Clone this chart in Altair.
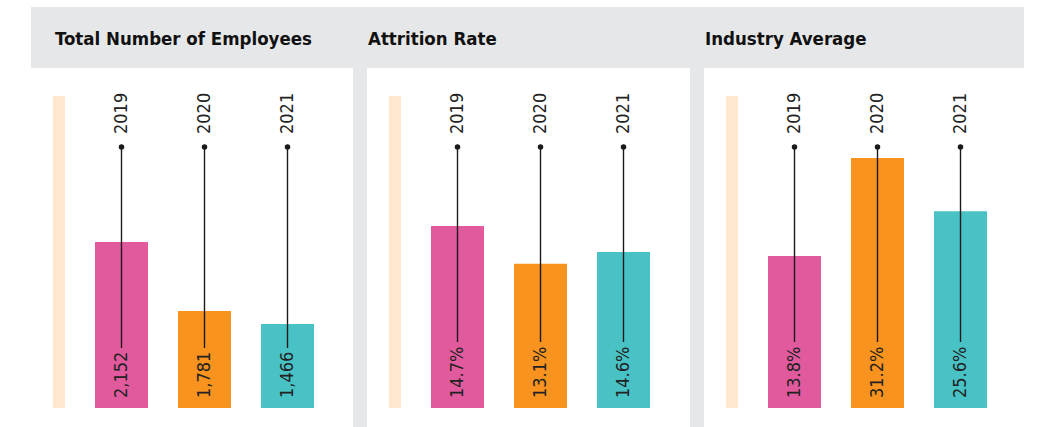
import altair as alt
import pandas as pd

# ---- data ----
years = ["2019", "2020", "2021"]
panel_titles = ["Total Number of Employees", "Attrition Rate", "Industry Average"]
value_labels = [
    ["2,152", "1,781", "1,466"],
    ["14.7%", "13.1%", "14.6%"],
    ["13.8%", "31.2%", "25.6%"],
]
# bar heights as drawn (fraction of the light track height)
bar_heights = [
    [0.532, 0.311, 0.269],
    [0.583, 0.462, 0.500],
    [0.487, 0.801, 0.631],
]
bar_colors = ["#E15A9E", "#F7931E", "#49C2C5"]

GREY = "#E6E7E8"
PEACH = "#FFE6CC"
INK = "#1A1A1A"
FONT = "DejaVu Sans Condensed, sans-serif"

H = 420
GAP = 14
widths = [322, 323, 320]
title_x = [24, 1, 1]
line_end = [341, 335, 335]

x_scale = alt.Scale(domain=years, range=[49, 298], paddingInner=30 / 83, paddingOuter=15 / 83)
y_scale = alt.Scale(domain=[0, 1], range=[401, 89], nice=False, zero=True)
c_scale = alt.Scale(domain=years, range=bar_colors)


def panel(i):
    w = widths[i]
    df = pd.DataFrame({"year": years, "label": value_labels[i], "h": bar_heights[i]})
    one = pd.DataFrame({"t": [panel_titles[i]]})
    layers = []
    hdr_w = w + GAP if i < 2 else w
    layers.append(
        alt.Chart(one).mark_rect(color=GREY).encode(
            x=alt.value(0), x2=alt.value(hdr_w), y=alt.value(0), y2=alt.value(61)
        )
    )
    if i < 2:
        layers.append(
            alt.Chart(one).mark_rect(color=GREY).encode(
                x=alt.value(w), x2=alt.value(w + GAP), y=alt.value(0), y2=alt.value(H)
            )
        )
    layers.append(
        alt.Chart(one).mark_text(
            align="left", baseline="alphabetic", fontSize=18.5, fontWeight="bold", font=FONT, color="#111111"
        ).encode(x=alt.value(title_x[i]), y=alt.value(38), text="t:N")
    )
    layers.append(
        alt.Chart(one).mark_rect(color=PEACH).encode(
            x=alt.value(22), x2=alt.value(34), y=alt.value(89), y2=alt.value(401)
        )
    )
    base = alt.Chart(df)
    X = alt.X("year:N", scale=x_scale, axis=None)
    layers.append(
        base.mark_bar().encode(
            x=X,
            y=alt.Y("h:Q", scale=y_scale, axis=None),
            color=alt.Color("year:N", scale=c_scale, legend=None),
        )
    )
    layers.append(
        base.mark_rule(color=INK, strokeWidth=1.4).encode(
            x=X, y=alt.value(140), y2=alt.value(line_end[i])
        )
    )
    layers.append(
        base.mark_circle(size=30, color=INK, opacity=1).encode(x=X, y=alt.value(140))
    )
    layers.append(
        base.mark_text(angle=270, align="left", baseline="middle", fontSize=18, font=FONT, color="#222222").encode(
            x=X, y=alt.value(127), text="year:N"
        )
    )
    layers.append(
        base.mark_text(angle=270, align="left", baseline="middle", fontSize=18, font=FONT, color="#222222").encode(
            x=X, y=alt.value(391), text="label:N"
        )
    )
    return alt.layer(*layers).properties(width=w, height=H)


chart = (
    alt.hconcat(panel(0), panel(1), panel(2), spacing=GAP, bounds="flush")
    .properties(padding={"left": 31, "top": 7, "right": 0, "bottom": 0}, background="white")
    .configure_view(stroke="transparent", strokeWidth=0)
)

chart.save("out.html", embed_options={"renderer": "svg", "actions": False})
